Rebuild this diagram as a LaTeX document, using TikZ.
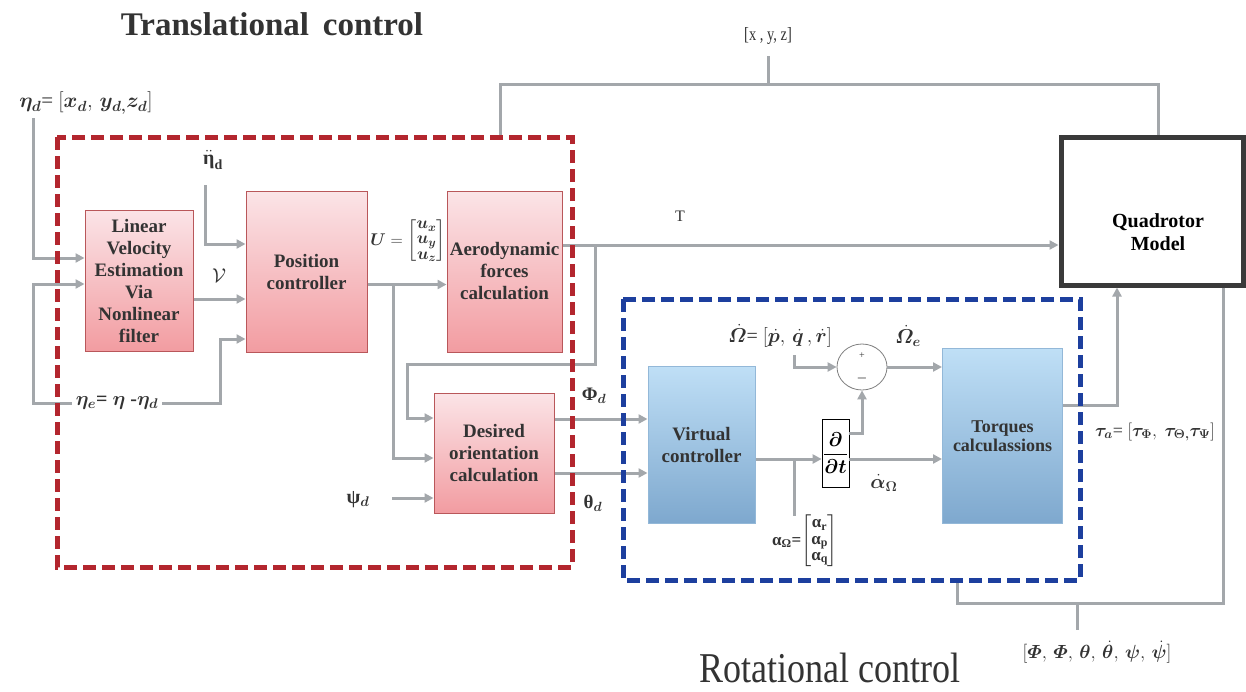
\RequirePackage{fix-cm}
\documentclass[tikz,border=0pt]{standalone}
\usepackage{fontspec}
\setmainfont{Liberation Serif}
\usepackage{amsmath}
\usepackage{bm}
\usetikzlibrary{arrows.meta,shapes.geometric}
\definecolor{lineg}{HTML}{A3A7AB}
\definecolor{redd}{HTML}{B3262E}
\definecolor{blued}{HTML}{1D3F9E}
\definecolor{pinkt}{HTML}{FBE4E7}
\definecolor{pinkb}{HTML}{F29CA1}
\definecolor{pinkd}{HTML}{B9575A}
\definecolor{bluet}{HTML}{BFDFF6}
\definecolor{blueb}{HTML}{7EA8CE}
\definecolor{blueedge}{HTML}{93B8D8}
\definecolor{txt}{HTML}{333333}
\definecolor{qmgray}{HTML}{3A3A3A}
\tikzset{
  pinkblk/.style={draw=pinkd, line width=1pt, top color=pinkt, bottom color=pinkb,
    align=center, font=\fontsize{19}{22}\selectfont\bfseries, text=txt, inner sep=0pt},
  blueblk/.style={draw=blueedge, line width=1pt, top color=bluet, bottom color=blueb,
    align=center, font=\fontsize{19}{22}\selectfont\bfseries, text=txt, inner sep=0pt},
  wire/.style={draw=lineg, line width=3pt},
  arr/.style={wire, -{Triangle[length=9pt,width=9pt]}},
  lbl/.style={text=txt, inner sep=0pt, font=\fontsize{20}{22}\selectfont},
  smlbl/.style={text=txt, inner sep=0pt, font=\fontsize{17}{19}\selectfont},
  reddash/.style={draw=redd, line width=5pt, dash pattern=on 13pt off 6pt},
  bluedash/.style={draw=blued, line width=5pt, dash pattern=on 13pt off 6pt},
  titlefont/.style={text=txt, inner sep=0pt}
}
\begin{document}
\begin{tikzpicture}[x=1pt,y=-1pt]
\useasboundingbox[fill=white] (0,0) rectangle (1246,691);

% titles
\node[titlefont, font=\fontsize{33}{36}\selectfont\bfseries] (title1) at (272,24) {Translational\, control};
\node[titlefont, font=\fontsize{36}{40}\selectfont] (title2) at (830,668) {\scalebox{1}[1.18]{Rotational control}};

% blocks
\node[pinkblk, minimum width=108, minimum height=141] (LV) at (139,280.5) {Linear\\Velocity\\Estimation\\Via\\Nonlinear\\filter};
\node[pinkblk, minimum width=121, minimum height=161] (PC) at (306.5,271.5) {Position\\controller};
\node[pinkblk, minimum width=115, minimum height=161] (AE) at (504.5,271.5) {Aerodynamic\\forces\\calculation};
\node[pinkblk, minimum width=120, minimum height=120] (DO) at (494,453) {Desired\\orientation\\calculation};
\node[blueblk, minimum width=107, minimum height=157] (VC) at (701.5,444.5) {Virtual\\controller};
\node[blueblk, minimum width=120, minimum height=175, font=\fontsize{18}{19}\selectfont\bfseries] (TQ) at (1002.5,436) {Torques\\calculassions};
\node[draw=qmgray, line width=5pt, minimum width=182, minimum height=148, inner sep=0pt] (QM) at (1152,211) {};
\node[text=black, align=center, font=\fontsize{20}{23}\selectfont\bfseries, inner sep=0pt] (qmt) at (1158,232) {Quadrotor\\Model};
\node[draw=black, line width=0.8pt, fill=white, minimum width=27, minimum height=68, inner sep=0pt,
      font=\fontsize{20}{22}\selectfont] (D) at (835.5,453) {$\displaystyle\frac{\bm\partial}{\bm{\partial t}}$};
\node[ellipse, draw=gray, line width=0.8pt, fill=white, minimum width=50, minimum height=46, inner sep=0pt] (S) at (862,367) {};
\node[text=txt, inner sep=0pt, font=\fontsize{10}{10}\selectfont] (splus) at (862,356) {+};
\node[text=txt, inner sep=0pt, font=\fontsize{12}{12}\selectfont] (sminus) at (862,378) {$\bm{-}$};

% labels
\node[lbl, font=\fontsize{21}{22}\selectfont] (etad) at (86,103) {$\bm{\eta_d}$= $[\bm{x_d},\, \bm{y_{d,}}\bm{z_d}]$};
\node[lbl] (etadd) at (213,160) {$\ddot{\text{\bfseries η}}_{\text{\bfseries d}}$};
\node[lbl, font=\fontsize{20}{20}\selectfont] (nu) at (219,276) {$\mathcal{V}$};
\node[lbl, inner xsep=4pt] (etae) at (117,403) {$\bm{\eta_e}$\textbf{=} $\bm{\eta}$ \textbf{-}$\bm{\eta_d}$};
\node[smlbl] (U) at (408,241) {$\bm{U} = \renewcommand{\arraystretch}{0.8}\begin{bmatrix}\bm{u_x}\\ \bm{u_y}\\ \bm{u_z}\end{bmatrix}$};
\node[lbl, font=\fontsize{16}{18}\selectfont] (T) at (680,216) {T};
\node[lbl, font=\fontsize{19}{20}\selectfont] (phid) at (594,396) {\textbf{Φ}$_{\bm d}$};
\node[lbl, font=\fontsize{19}{20}\selectfont] (thd) at (593,503) {\textbf{θ}$_{\bm d}$};
\node[lbl] (psid) at (358,500) {\textbf{ψ}$_{\bm d}$};
\node[lbl] (omg) at (780,336) {$\bm{\dot{\varOmega}}$= $[\bm{\dot{p}},\, \bm{\dot{q}}\,, \bm{\dot{r}}]$};
\node[lbl] (omge) at (908,336) {$\bm{\dot{\varOmega}_e}$};
\node[lbl] (alphd) at (884,483) {$\bm{\dot{\alpha}_{\Omega}}$};
\node[smlbl] (alph) at (805,541) {\textbf{α}$_{\text{\bfseries Ω}}$\textbf{=}$\renewcommand{\arraystretch}{0.85}\begin{bmatrix}\text{\bfseries α}_{\text{\bfseries r}}\\ \text{\bfseries α}_{\text{\bfseries p}}\\ \text{\bfseries α}_{\text{\bfseries q}}\end{bmatrix}$};
\node[lbl, font=\fontsize{18}{20}\selectfont] (tau) at (1155,432) {$\bm{\tau_a}$= $[\bm{\tau_{\Phi}},\ \bm{\tau_{\Theta,}}\bm{\tau_{\Psi}}]$};
\node[lbl, font=\fontsize{17}{20}\selectfont] (xyz) at (768,36) {\scalebox{0.85}[1.1]{[x , y, z]}};
\node[lbl, font=\fontsize{19}{20}\selectfont] (att) at (1097,652) {$[\bm{\varPhi},\, \bm{\varPhi},\, \bm{\theta},\, \bm{\dot\theta},\, \bm{\psi},\, \bm{\dot\psi}]$};

% coordinates
\coordinate (ed1) at (33,118);
\coordinate (e1) at (33,403);
\coordinate (e2) at (33,284);
\coordinate (e3) at (220,339);
\coordinate (dd1) at (205,185);
\coordinate (b1) at (393,284.5);
\coordinate (b2) at (595,245);
\coordinate (b3) at (595,364);
\coordinate (b4) at (407,364);
\coordinate (ps1) at (392,498);
\coordinate (a1) at (794,459);
\coordinate (a2) at (794,516);
\coordinate (om1) at (794,355);
\coordinate (f2) at (957,603);
\coordinate (f3) at (957,580);
\coordinate (k1) at (1077,603);
\coordinate (k2) at (1077,630);
\coordinate (g1) at (500,137);
\coordinate (g2) at (768,84);
\coordinate (g3) at (768,56);

% connectors
\draw[arr] (ed1) |- ([yshift=22.5pt]LV.west);
\draw[arr] (etae.west) -- (e1) -- (e2) -- (e2 -| LV.west);
\draw[arr] (etae.east) -| (e3) -- (e3 -| PC.west);
\draw[arr] (dd1) |- ([yshift=27.5pt]PC.west);
\draw[arr] ([yshift=-18.5pt]LV.east) coordinate (nu1) -- (nu1 -| PC.west);
\draw[arr] ([yshift=-13pt]PC.east) coordinate (u1) -- (u1 -| AE.west);
\draw[arr] (b1) |- ([yshift=-5pt]DO.west);
\draw[arr] ([yshift=26.5pt]AE.east) coordinate (t1) -- (t1 -| QM.west);
\draw[arr] (b2) -- (b3) -- (b4) |- ([yshift=35pt]DO.west);
\draw[arr] ([yshift=34pt]DO.east) coordinate (p1) -- (p1 -| VC.west);
\draw[arr] ([yshift=-20pt]DO.east) coordinate (p2) -- (p2 -| VC.west);
\draw[arr] (ps1) -- (ps1 -| DO.west);
\draw[arr] ([yshift=-14.5pt]VC.east) coordinate (v1) -- (v1 -| D.west);
\draw[wire] (a1) -- (a2);
\draw[arr] (v1 -| D.east) -- (v1 -| TQ.west);
\draw[arr] ([yshift=20pt]D.east) -| (S.south);
\draw[arr] (om1) |- (S.west);
\draw[arr] (S.east) -- (S.east -| TQ.west);
\draw[arr] ([yshift=30.5pt]TQ.east) -| ([xshift=-35pt]QM.south);
\draw[wire] ([xshift=71pt]QM.south) |- (f2) -- (f3);
\draw[wire] (k1) -- (k2);
\draw[wire] (g1) |- (g2) -| ([xshift=6pt]QM.north);
\draw[wire] (g3) -- (g2);

% dashed groups
\draw[reddash] (57,137) rectangle (572,567);
\draw[bluedash] (623,299) rectangle (1080,580);
\end{tikzpicture}
\end{document}
